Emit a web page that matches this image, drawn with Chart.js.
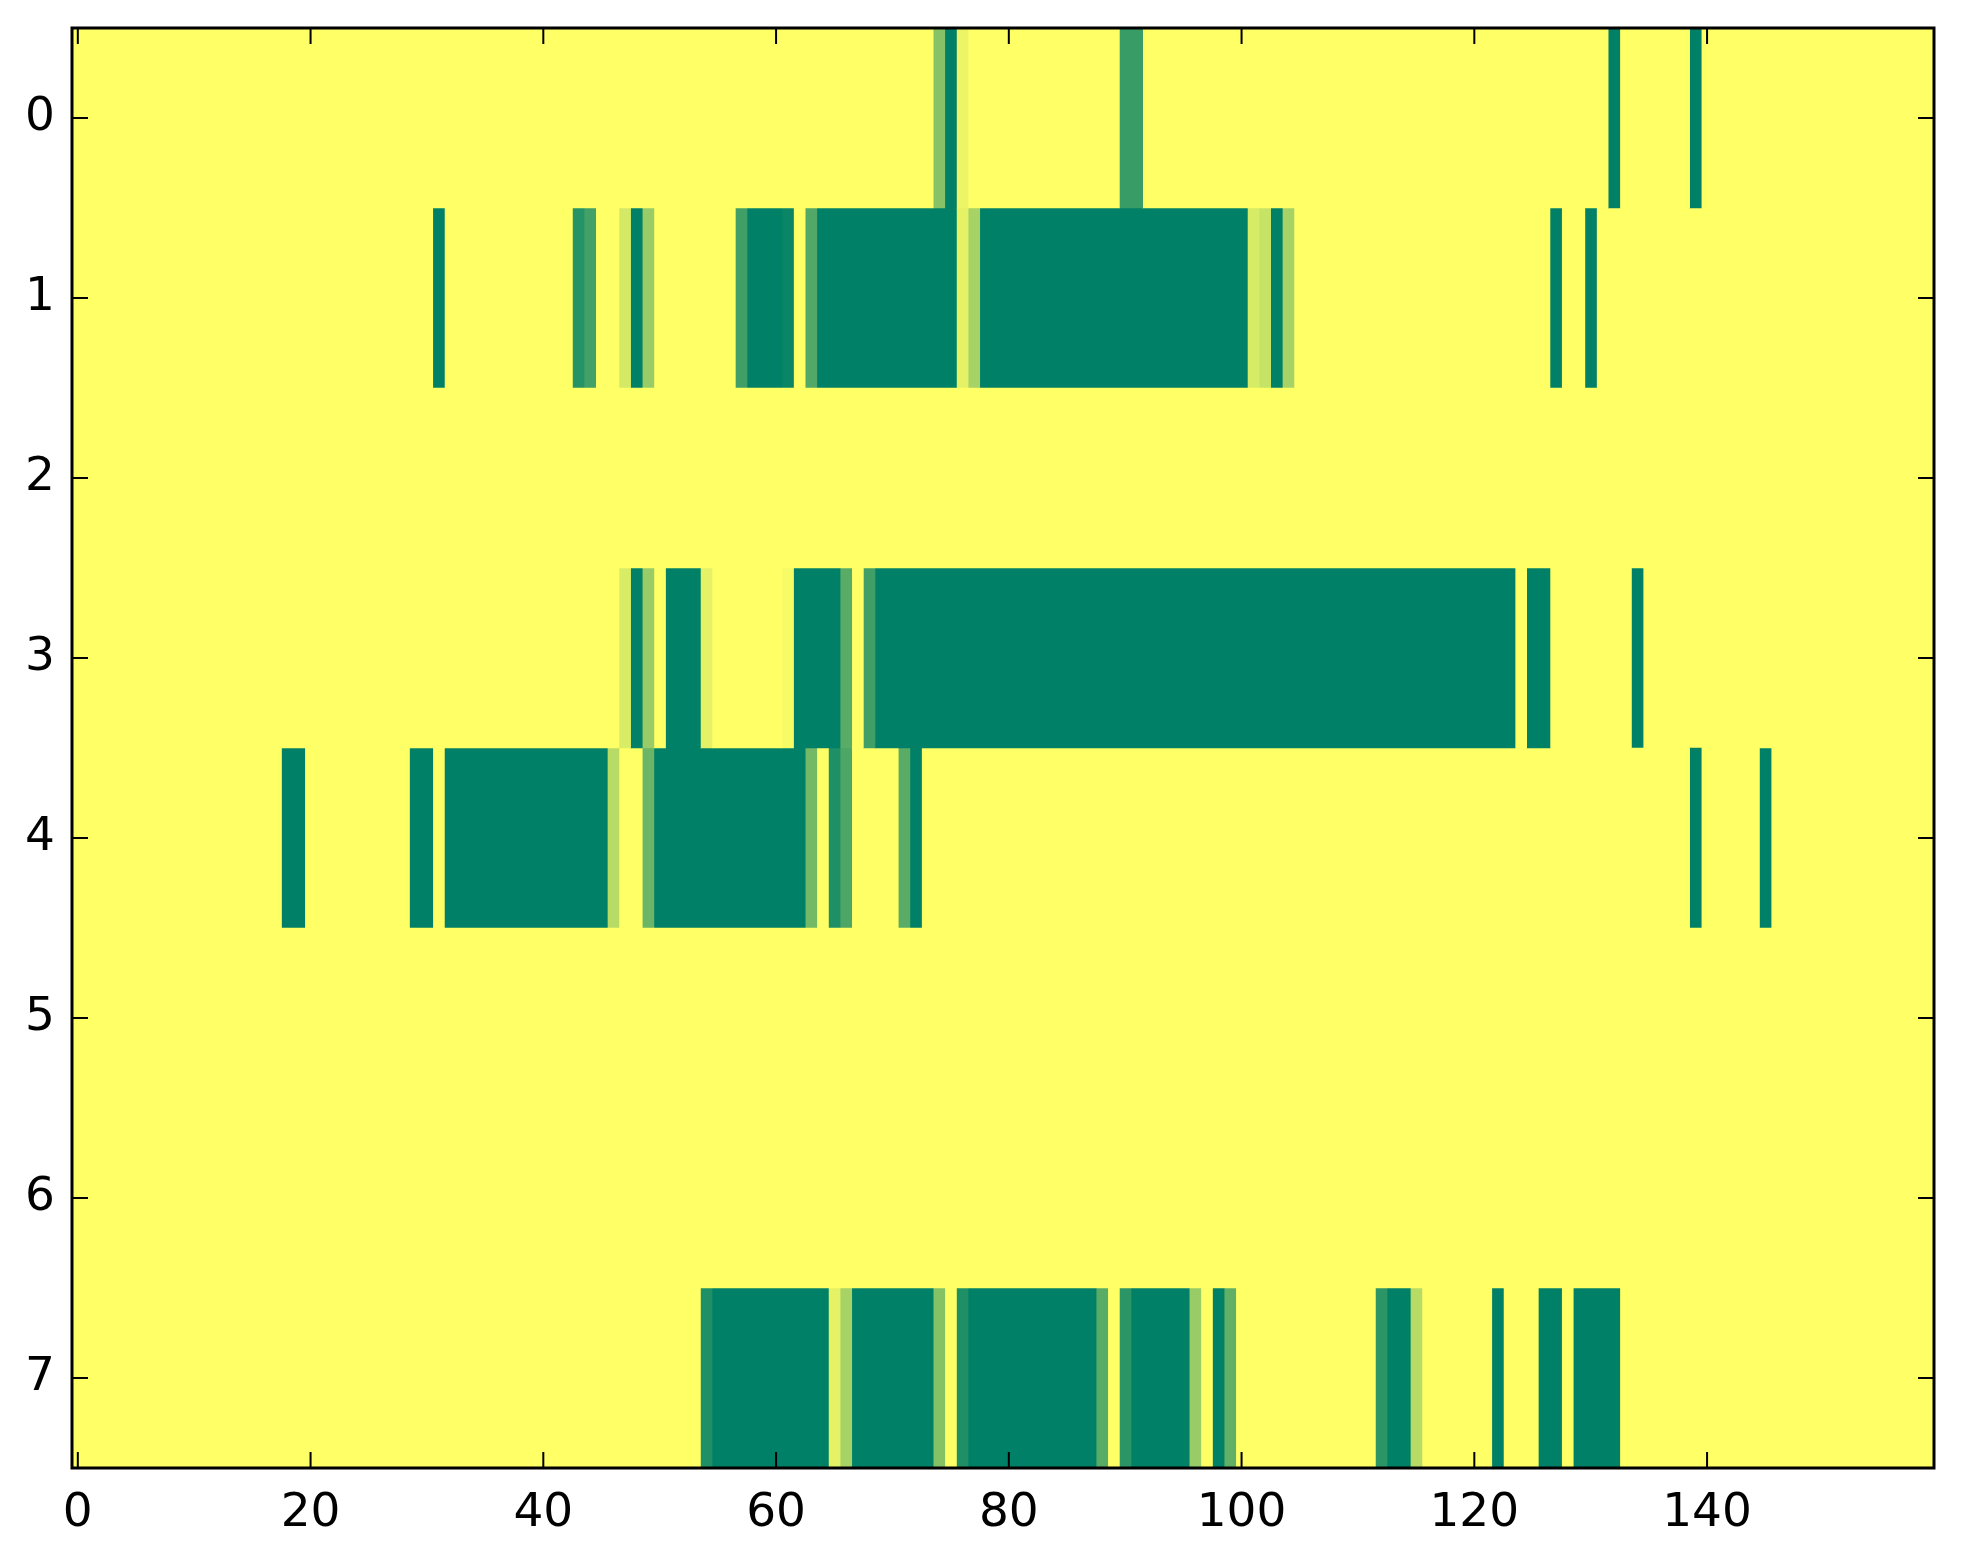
<!DOCTYPE html>
<html>
<head>
<meta charset="utf-8">
<script src="https://cdn.jsdelivr.net/npm/chart.js@4"></script>
<style>
  html, body { margin: 0; padding: 0; background: #ffffff; }
  #wrap { width: 1963px; height: 1564px; }
</style>
</head>
<body>
<div id="wrap"><canvas id="heat"></canvas></div>
<script>
const ROW_LABELS = ["0", "1", "2", "3", "4", "5", "6", "7"];
const N_COLS = 160;
const X_TICKS = [0, 20, 40, 60, 80, 100, 120, 140];

// non-zero cells of each row: [first column, last column, value]
const ROW_0 = [[74, 74, 0.47], [75, 75, 1], [76, 76, 0.08], [90, 91, 0.78], [132, 132, 1], [139, 139, 1]];
const ROW_1 = [[31, 31, 1], [43, 43, 0.85], [44, 44, 0.74], [47, 47, 0.17], [48, 48, 1], [49, 49, 0.4],
  [57, 57, 0.75], [58, 60, 1], [61, 61, 0.96], [63, 63, 0.68], [64, 75, 1], [76, 76, 0.1], [77, 77, 0.35],
  [78, 100, 1], [101, 101, 0.16], [102, 102, 0.22], [103, 103, 1], [104, 104, 0.35], [127, 127, 1], [130, 130, 1]];
const ROW_2 = [];
const ROW_3 = [[47, 47, 0.15], [48, 48, 1], [49, 49, 0.4], [51, 53, 1], [54, 54, 0.1], [61, 61, 0.03],
  [62, 65, 1], [66, 66, 0.65], [68, 68, 0.75], [69, 123, 1], [125, 126, 1], [134, 134, 1]];
const ROW_4 = [[18, 19, 1], [29, 30, 1], [32, 45, 1], [46, 46, 0.28], [49, 49, 0.58], [50, 62, 1],
  [63, 63, 0.55], [65, 65, 0.88], [66, 66, 0.7], [71, 71, 0.65], [72, 72, 1], [139, 139, 1], [145, 145, 1]];
const ROW_5 = [];
const ROW_6 = [];
const ROW_7 = [[54, 54, 0.88], [55, 64, 1], [65, 65, 0.1], [66, 66, 0.35], [67, 73, 1], [74, 74, 0.48],
  [76, 76, 0.88], [77, 87, 1], [88, 88, 0.65], [90, 90, 0.83], [91, 95, 1], [96, 96, 0.4], [98, 98, 1],
  [99, 99, 0.62], [112, 112, 0.83], [113, 114, 1], [115, 115, 0.28], [122, 122, 1], [126, 127, 1], [129, 132, 1]];

const ROWS = [ROW_0, ROW_1, ROW_2, ROW_3, ROW_4, ROW_5, ROW_6, ROW_7];

const FONT = { family: "'DejaVu Sans', sans-serif", size: 47 };
const TICK_LEN = 16;

// reversed "summer" colour map: 0 -> yellow, 1 -> dark green
function cmap(v) {
  const r = Math.round(255 * (1 - v));
  const g = Math.round(255 * (1 - v / 2));
  return "rgb(" + r + "," + g + ",102)";
}

// full grid of values, then merged into runs of equal value
const grid = ROWS.map(cells => {
  const row = new Array(N_COLS).fill(0);
  cells.forEach(([a, b, v]) => { for (let c = a; c <= b; c++) row[c] = v; });
  return row;
});

const segments = grid.map(row => {
  const segs = [];
  let start = 0;
  for (let c = 1; c <= N_COLS; c++) {
    if (c === N_COLS || row[c] !== row[start]) {
      segs.push({ start: start, end: c - 1, value: row[start] });
      start = c;
    }
  }
  return segs;
});

const maxSegs = Math.max(...segments.map(s => s.length));
const datasets = [];
for (let k = 0; k < maxSegs; k++) {
  datasets.push({
    data: segments.map(segs => segs[k] ? [segs[k].start - 0.5, segs[k].end + 0.5] : null),
    backgroundColor: segments.map(segs => segs[k] ? cmap(segs[k].value) : "transparent"),
  });
}

const backgroundPlugin = {
  id: "areaBackground",
  beforeDatasetsDraw(chart) {
    const { ctx, chartArea: a } = chart;
    ctx.save();
    ctx.fillStyle = cmap(0);
    ctx.fillRect(a.left, a.top, a.width, a.height);
    ctx.restore();
  },
};

const framePlugin = {
  id: "frame",
  afterDatasetsDraw(chart) {
    const { ctx, chartArea: a } = chart;
    const x = chart.scales.x;
    const y = chart.scales.y;
    ctx.save();
    ctx.strokeStyle = "#000000";
    ctx.lineWidth = 2;
    ctx.beginPath();
    X_TICKS.forEach(v => {
      const px = x.getPixelForValue(v);
      ctx.moveTo(px, a.bottom);
      ctx.lineTo(px, a.bottom - TICK_LEN);
      ctx.moveTo(px, a.top);
      ctx.lineTo(px, a.top + TICK_LEN);
    });
    ROW_LABELS.forEach((_, i) => {
      const py = y.getPixelForValue(i);
      ctx.moveTo(a.left, py);
      ctx.lineTo(a.left + TICK_LEN, py);
      ctx.moveTo(a.right, py);
      ctx.lineTo(a.right - TICK_LEN, py);
    });
    ctx.stroke();
    ctx.lineWidth = 3;
    ctx.strokeRect(a.left, a.top, a.width, a.height);
    ctx.restore();
  },
};

new Chart(document.getElementById("heat"), {
  type: "bar",
  data: { labels: ROW_LABELS, datasets: datasets },
  plugins: [backgroundPlugin, framePlugin],
  options: {
    indexAxis: "y",
    responsive: true,
    maintainAspectRatio: false,
    animation: false,
    devicePixelRatio: 1,
    layout: { padding: { top: 28, right: 29, left: 0, bottom: 0 } },
    datasets: {
      bar: {
        grouped: false,
        barPercentage: 1,
        categoryPercentage: 1,
        borderWidth: 0,
        borderSkipped: false,
      },
    },
    plugins: { legend: { display: false }, tooltip: { enabled: false } },
    scales: {
      x: {
        type: "linear",
        position: "bottom",
        min: -0.5,
        max: N_COLS - 0.5,
        grid: { display: false, drawTicks: false },
        border: { display: false },
        ticks: { font: FONT, color: "#000000", padding: 18, maxRotation: 0, autoSkip: false },
        afterBuildTicks(scale) { scale.ticks = X_TICKS.map(v => ({ value: v })); },
        afterFit(scale) {
          scale.height = 96;
          scale.paddingLeft = 0;
          scale.paddingRight = 0;
        },
      },
      y: {
        type: "category",
        offset: true,
        grid: { display: false, drawTicks: false },
        border: { display: false },
        ticks: { font: FONT, color: "#000000", padding: 17 },
        afterFit(scale) {
          scale.width = 72;
          scale.paddingTop = 0;
          scale.paddingBottom = 0;
        },
      },
    },
  },
});
</script>
</body>
</html>
